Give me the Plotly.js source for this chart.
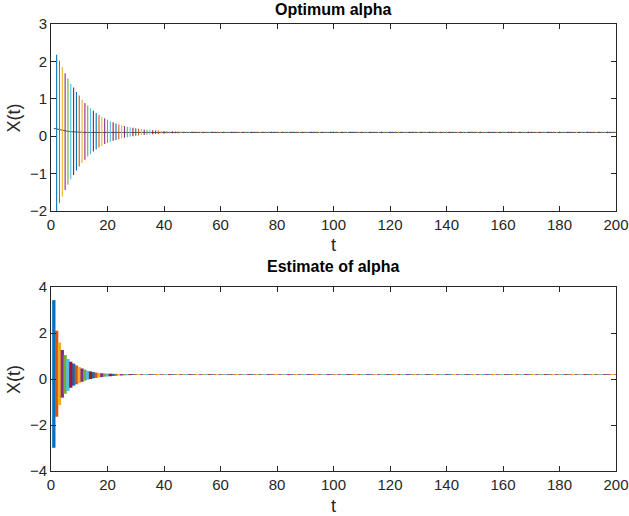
<!DOCTYPE html>
<html>
<head>
<meta charset="utf-8">
<script src="https://cdn.plot.ly/plotly-3.0.1.min.js"></script>
<style>html,body{margin:0;padding:0;background:#fff;}#chart{width:629px;height:516px;}</style>
</head>
<body>
<div id="chart"></div>
<script>
// ---- Data ----
// Top panel "Optimum alpha": vertical segments, first at t = 2
var topStartT = 2;
var topHigh = [
2.18,2.02,1.85,1.68,1.54,1.40,1.30,1.18,1.09,0.98,
0.89,0.82,0.75,0.68,0.62,0.57,0.52,0.48,0.44,0.40,
0.37,0.34,0.31,0.29,0.27,0.255,0.24,0.225,0.21,0.20,
0.19,0.18,0.175,0.17,0.16,0.155,0.15,0.145,0.14,0.137,
0.134,0.131,0.128,0.126,0.124,0.122,0.122,0.122,0.122,0.122,
0.122,0.122,0.122,0.122,0.122,0.122,0.122,0.122,0.122,0.122,
0.122,0.122,0.122,0.122,0.122,0.122,0.122,0.122,0.122,0.122,
0.122,0.122,0.122,0.122,0.122,0.122,0.122,0.122,0.122,0.122,
0.122,0.122,0.122,0.122,0.122,0.122,0.122,0.122,0.122,0.122,
0.122,0.122,0.122,0.122,0.122,0.122,0.122,0.122,0.122,0.122,
0.122,0.122,0.122,0.122,0.122,0.122,0.122,0.122,0.122,0.122,
0.122,0.122,0.122,0.122,0.122,0.122,0.122,0.122,0.122,0.122,
0.122,0.122,0.122,0.122,0.122,0.122,0.122,0.122,0.122,0.122,
0.122,0.122,0.122,0.122,0.122,0.122,0.122,0.122,0.122,0.122,
0.122,0.122,0.122,0.122,0.122,0.122,0.122,0.122,0.122,0.122,
0.122,0.122,0.122,0.122,0.122,0.122,0.122,0.122,0.122,0.122,
0.122,0.122,0.122,0.122,0.122,0.122,0.122,0.122,0.122,0.122,
0.122,0.122,0.122,0.122,0.122,0.122,0.122,0.122,0.122,0.122,
0.122,0.122,0.122,0.122,0.122,0.122,0.122,0.122,0.122,0.122,
0.122,0.122,0.122,0.122,0.122,0.122,0.122,0.122,0.122
];
var topLow = [
-2.05,-1.79,-1.62,-1.44,-1.30,-1.15,-1.04,-0.92,-0.81,-0.72,
-0.63,-0.54,-0.48,-0.41,-0.35,-0.30,-0.26,-0.21,-0.18,-0.15,
-0.12,-0.10,-0.08,-0.06,-0.04,-0.03,-0.015,0.0,0.01,0.02,
0.03,0.035,0.04,0.045,0.05,0.055,0.06,0.065,0.068,0.071,
0.074,0.077,0.079,0.081,0.082,0.082,0.082,0.082,0.082,0.082,
0.082,0.082,0.082,0.082,0.082,0.082,0.082,0.082,0.082,0.082,
0.082,0.082,0.082,0.082,0.082,0.082,0.082,0.082,0.082,0.082,
0.082,0.082,0.082,0.082,0.082,0.082,0.082,0.082,0.082,0.082,
0.082,0.082,0.082,0.082,0.082,0.082,0.082,0.082,0.082,0.082,
0.082,0.082,0.082,0.082,0.082,0.082,0.082,0.082,0.082,0.082,
0.082,0.082,0.082,0.082,0.082,0.082,0.082,0.082,0.082,0.082,
0.082,0.082,0.082,0.082,0.082,0.082,0.082,0.082,0.082,0.082,
0.082,0.082,0.082,0.082,0.082,0.082,0.082,0.082,0.082,0.082,
0.082,0.082,0.082,0.082,0.082,0.082,0.082,0.082,0.082,0.082,
0.082,0.082,0.082,0.082,0.082,0.082,0.082,0.082,0.082,0.082,
0.082,0.082,0.082,0.082,0.082,0.082,0.082,0.082,0.082,0.082,
0.082,0.082,0.082,0.082,0.082,0.082,0.082,0.082,0.082,0.082,
0.082,0.082,0.082,0.082,0.082,0.082,0.082,0.082,0.082,0.082,
0.082,0.082,0.082,0.082,0.082,0.082,0.082,0.082,0.082,0.082,
0.082,0.082,0.082,0.082,0.082,0.082,0.082,0.082,0.082
];
// black reference curve in the top panel
var blackT = [1,2,3,4,5,6,7,8,9,10,12,15,200];
var blackY = [0.21,0.19,0.17,0.155,0.14,0.13,0.12,0.115,0.11,0.105,0.1,0.1,0.1];

// Bottom panel "Estimate of alpha": thick vertical bars, first at t = 1
var botStartT = 1;
var botHigh = [
3.43,2.10,1.59,1.26,1.04,0.87,0.75,0.67,0.59,0.52,
0.46,0.41,0.36,0.33,0.30,0.28,0.26,0.25,0.24,0.235,
0.23,0.225,0.22,0.22,0.215,0.215,0.215,0.215,0.215,0.215,
0.215,0.215,0.215,0.215,0.215,0.215,0.215,0.215,0.215,0.215,
0.215,0.215,0.215,0.215,0.215,0.215,0.215,0.215,0.215,0.215,
0.215,0.215,0.215,0.215,0.215,0.215,0.215,0.215,0.215,0.215,
0.215,0.215,0.215,0.215,0.215,0.215,0.215,0.215,0.215,0.215,
0.215,0.215,0.215,0.215,0.215,0.215,0.215,0.215,0.215,0.215,
0.215,0.215,0.215,0.215,0.215,0.215,0.215,0.215,0.215,0.215,
0.215,0.215,0.215,0.215,0.215,0.215,0.215,0.215,0.215,0.215,
0.215,0.215,0.215,0.215,0.215,0.215,0.215,0.215,0.215,0.215,
0.215,0.215,0.215,0.215,0.215,0.215,0.215,0.215,0.215,0.215,
0.215,0.215,0.215,0.215,0.215,0.215,0.215,0.215,0.215,0.215,
0.215,0.215,0.215,0.215,0.215,0.215,0.215,0.215,0.215,0.215,
0.215,0.215,0.215,0.215,0.215,0.215,0.215,0.215,0.215,0.215,
0.215,0.215,0.215,0.215,0.215,0.215,0.215,0.215,0.215,0.215,
0.215,0.215,0.215,0.215,0.215,0.215,0.215,0.215,0.215,0.215,
0.215,0.215,0.215,0.215,0.215,0.215,0.215,0.215,0.215,0.215,
0.215,0.215,0.215,0.215,0.215,0.215,0.215,0.215,0.215,0.215,
0.215,0.215,0.215,0.215,0.215,0.215,0.215,0.215,0.215,0.215
];
var botLow = [
-2.99,-1.64,-1.13,-0.81,-0.64,-0.52,-0.38,-0.29,-0.23,-0.17,
-0.12,-0.07,-0.03,0.0,0.03,0.05,0.07,0.08,0.10,0.11,
0.12,0.13,0.14,0.15,0.155,0.16,0.165,0.17,0.175,0.178,
0.18,0.18,0.18,0.18,0.18,0.18,0.18,0.18,0.18,0.18,
0.18,0.18,0.18,0.18,0.18,0.18,0.18,0.18,0.18,0.18,
0.18,0.18,0.18,0.18,0.18,0.18,0.18,0.18,0.18,0.18,
0.18,0.18,0.18,0.18,0.18,0.18,0.18,0.18,0.18,0.18,
0.18,0.18,0.18,0.18,0.18,0.18,0.18,0.18,0.18,0.18,
0.18,0.18,0.18,0.18,0.18,0.18,0.18,0.18,0.18,0.18,
0.18,0.18,0.18,0.18,0.18,0.18,0.18,0.18,0.18,0.18,
0.18,0.18,0.18,0.18,0.18,0.18,0.18,0.18,0.18,0.18,
0.18,0.18,0.18,0.18,0.18,0.18,0.18,0.18,0.18,0.18,
0.18,0.18,0.18,0.18,0.18,0.18,0.18,0.18,0.18,0.18,
0.18,0.18,0.18,0.18,0.18,0.18,0.18,0.18,0.18,0.18,
0.18,0.18,0.18,0.18,0.18,0.18,0.18,0.18,0.18,0.18,
0.18,0.18,0.18,0.18,0.18,0.18,0.18,0.18,0.18,0.18,
0.18,0.18,0.18,0.18,0.18,0.18,0.18,0.18,0.18,0.18,
0.18,0.18,0.18,0.18,0.18,0.18,0.18,0.18,0.18,0.18,
0.18,0.18,0.18,0.18,0.18,0.18,0.18,0.18,0.18,0.18,
0.18,0.18,0.18,0.18,0.18,0.18,0.18,0.18,0.18,0.18
];

var xTicks = [0,20,40,60,80,100,120,140,160,180,200];
var topYTicks = [-2,-1,0,1,2,3];
var botYTicks = [-4,-2,0,2,4];

// MATLAB default colour order
var colorOrder = ['#0072BD','#D95319','#EDB120','#7E2F8E','#77AC30','#4DBEEE','#A2142F'];

// ---- Build traces ----
function segmentTraces(startT, hi, lo, xa, ya, width) {
  var groups = colorOrder.map(function(){ return {x:[], y:[]}; });
  for (var i = 0; i < hi.length; i++) {
    var g = groups[i % colorOrder.length];
    var t = startT + i;
    g.x.push(t, t, null);
    g.y.push(lo[i], hi[i], null);
  }
  return groups.map(function(g, k){
    return {x:g.x, y:g.y, xaxis:xa, yaxis:ya, type:'scatter', mode:'lines',
            line:{color:colorOrder[k], width:width}, hoverinfo:'skip', showlegend:false, connectgaps:false};
  });
}

var traces = [];
traces.push({x:blackT, y:blackY, xaxis:'x', yaxis:'y', type:'scatter', mode:'lines',
             line:{color:'#3a3a3a', width:0.9}, showlegend:false, hoverinfo:'skip'});
traces = traces.concat(segmentTraces(topStartT, topHigh, topLow, 'x', 'y', 1.1));
traces = traces.concat(segmentTraces(botStartT, botHigh, botLow, 'x2', 'y2', 3.3));

var FONT = 'Liberation Sans, Arial, Helvetica, sans-serif';
var axisCommon = {
  showline:true, linecolor:'#262626', linewidth:1, mirror:'ticks',
  ticks:'inside', ticklen:5, tickwidth:1, tickcolor:'#262626',
  showgrid:false, zeroline:false,
  tickfont:{family:FONT, size:15, color:'#262626'}
};
function ax(extra){ var o = {}; for (var k in axisCommon) o[k]=axisCommon[k]; for (var k2 in extra) o[k2]=extra[k2]; return o; }

var layout = {
  width:629, height:516,
  paper_bgcolor:'#ffffff', plot_bgcolor:'#ffffff',
  margin:{l:51, r:13, t:24, b:45},
  showlegend:false,
  xaxis: ax({domain:[0,1], range:[0,200], tickvals:xTicks, anchor:'y'}),
  yaxis: ax({domain:[0.5817,1], range:[-2,3], tickvals:topYTicks, anchor:'x'}),
  xaxis2: ax({domain:[0,1], range:[0,200], tickvals:xTicks, anchor:'y2'}),
  yaxis2: ax({domain:[0,0.4116], range:[-4,4], tickvals:botYTicks, anchor:'x2'}),
  annotations:[
    {text:'<b>Optimum alpha</b>', xref:'paper', yref:'paper', x:0.5, y:1.033, showarrow:false,
     xanchor:'center', yanchor:'middle', font:{family:FONT, size:16, color:'#000'}},
    {text:'<b>Estimate of alpha</b>', xref:'paper', yref:'paper', x:0.5, y:0.4586, showarrow:false,
     xanchor:'center', yanchor:'middle', font:{family:FONT, size:16, color:'#000'}},
    {text:'t', xref:'paper', yref:'paper', x:0.5, y:0.5056, showarrow:false,
     xanchor:'center', yanchor:'middle', font:{family:FONT, size:18, color:'#262626'}},
    {text:'t', xref:'paper', yref:'paper', x:0.5, y:-0.0783, showarrow:false,
     xanchor:'center', yanchor:'middle', font:{family:FONT, size:18, color:'#262626'}},
    {text:'X(t)', xref:'paper', yref:'paper', x:-0.0655, y:0.7907, showarrow:false, textangle:-90,
     xanchor:'center', yanchor:'middle', font:{family:FONT, size:18, color:'#262626'}},
    {text:'X(t)', xref:'paper', yref:'paper', x:-0.0655, y:0.2058, showarrow:false, textangle:-90,
     xanchor:'center', yanchor:'middle', font:{family:FONT, size:18, color:'#262626'}}
  ]
};

Plotly.newPlot('chart', traces, layout, {staticPlot:true, displayModeBar:false});
</script>
</body>
</html>
